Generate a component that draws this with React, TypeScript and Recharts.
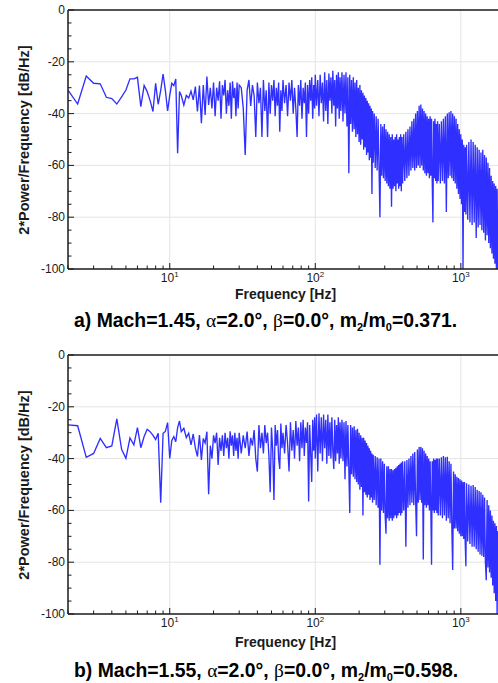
import React from 'react';
import { LineChart, Line, XAxis, YAxis, CartesianGrid, ReferenceLine } from 'recharts';

// frequency bins [Hz], shared by both runs
const freqHz = [
  2, 2.33, 2.67, 3, 3.33, 3.67, 4, 4.33, 4.67, 5,
  5.33, 5.67, 6, 6.33, 6.67, 7, 7.33, 7.67, 8, 8.33,
  8.67, 9, 9.33, 9.67, 10, 10.33, 10.67, 11, 11.33, 11.67,
  12, 12.5, 13, 13.5, 14, 14.5, 15, 15.5, 16, 16.5,
  17, 17.5, 18, 18.5, 19, 19.5, 20, 20.5, 21, 21.5,
  22, 22.5, 23, 23.5, 24, 24.5, 25, 25.5, 26, 26.5,
  27, 27.5, 28, 28.5, 29, 29.5, 30, 31, 32, 33,
  34, 35, 36, 37, 38, 39, 40, 41, 42, 43,
  44, 45, 46, 47, 48, 49, 50, 51, 52, 53,
  54, 55, 56, 57, 58, 59, 60, 61.5, 63, 64.5,
  66, 67.5, 69, 70.5, 72, 73.5, 75, 76.5, 78, 79.5,
  81, 82.5, 84, 85.5, 87, 88.5, 90, 91.5, 93, 94.5,
  96, 97.5, 99, 100, 102, 104, 106, 108, 110, 112,
  114, 116, 118, 120, 122, 124, 126, 128, 130, 132,
  134, 136, 138, 140, 142, 144, 146, 148, 150, 152.5,
  155, 157.5, 160, 162.5, 165, 167.5, 170, 172.5, 175, 177.5,
  180, 182.5, 185, 187.5, 190, 192.5, 195, 197.5, 200, 202.5,
  205, 207.5, 210, 212.5, 215, 217.5, 220, 222.5, 225, 227.5,
  230, 232.5, 235, 237.5, 240, 242.5, 245, 247.5, 250, 254,
  258, 262, 266, 270, 274, 278, 282, 286, 290, 294,
  298, 302, 306, 310, 314, 318, 322, 326, 330, 334,
  338, 342, 346, 350, 354, 358, 362, 366, 370, 374,
  378, 382, 386, 390, 394, 398, 405, 412, 419, 426,
  433, 440, 447, 454, 461, 468, 475, 482, 489, 496,
  503, 510, 517, 524, 531, 538, 545, 552, 559, 566,
  573, 580, 587, 594, 601, 608, 615, 622, 629, 636,
  643, 650, 657, 664, 671, 678, 685, 692, 699, 711,
  723, 735, 747, 759, 771, 783, 795, 807, 819, 831,
  843, 855, 867, 879, 891, 903, 915, 927, 939, 951,
  963, 975, 987, 999, 1011, 1023, 1035, 1047, 1059, 1071,
  1083, 1095, 1115, 1135, 1155, 1175, 1195, 1215, 1235, 1255,
  1275, 1295, 1315, 1335, 1355, 1375, 1395, 1415, 1435, 1455,
  1475, 1495, 1515, 1535, 1555, 1575, 1595, 1615, 1635, 1655,
  1675, 1695, 1715, 1735, 1755, 1775, 1795,
];

// a) Mach 1.45, m2/m0 = 0.371  [dB/Hz]
const psdCaseA = [
  -30.9, -36.3, -25.5, -28.3, -28.5, -33.7, -34.2, -36.3, -33.5, -30.9,
  -26.6, -26.6, -26, -37.3, -29.1, -31.5, -35, -39.2, -28.3, -36.4,
  -31, -24.7, -31, -39, -33, -28.3, -29.2, -26.6, -55.3, -31.5,
  -33, -36.7, -33, -34, -31.3, -34.7, -29.6, -39.2, -29.2, -43.7,
  -29, -40.5, -25.7, -36.7, -30, -38, -28, -41, -30, -35,
  -27.5, -42, -29, -33, -27, -40, -31, -37, -28, -42,
  -27.5, -34, -30, -41, -28, -38, -29, -30, -38, -56,
  -31, -27, -37, -29, -33, -49, -28, -36, -30, -49,
  -27, -39, -31, -49, -28, -40, -29, -35, -27, -41,
  -30, -37, -28, -47, -31, -39, -27, -36, -29, -41,
  -28, -35, -27, -40, -30, -38, -49, -29, -37, -27,
  -42, -30, -36, -28, -49, -29, -40, -27, -35, -26,
  -42, -29, -38, -25, -37, -27, -41, -25, -36, -28,
  -43, -24, -39, -27, -44, -24.5, -35, -26, -40, -23.5,
  -37, -27, -45, -25, -38, -24, -42, -26, -39, -24,
  -43, -25, -40, -24, -45, -26, -63, -25, -44, -27,
  -47, -26, -46, -28, -49, -27, -48, -30, -51, -29,
  -52, -31, -50, -32, -54, -33, -53, -34, -56, -35,
  -55, -36, -58, -37, -57, -38, -71, -39, -59, -40,
  -61, -41, -62, -42, -60, -80, -44, -64, -45, -65,
  -44, -66, -46, -67, -47, -68, -48, -69, -49, -76,
  -48, -69, -50, -68, -49, -70, -48, -67, -50, -69,
  -49, -68, -48, -70, -49, -67, -48, -66, -47, -65,
  -46, -64, -45, -62, -43, -61, -42, -62, -40, -61,
  -39, -60, -37, -61, -36.5, -60, -38, -62, -39, -63,
  -40, -64, -41, -63, -42, -65, -41, -64, -42, -66,
  -82, -43, -65, -42, -66, -44, -67, -43, -66, -44,
  -67, -43, -66, -42, -67, -41, -78, -40, -65, -39.5,
  -64, -39, -65, -40, -66, -41, -67, -42, -69, -44,
  -71, -46, -73, -48, -75, -50, -100, -52, -78, -53,
  -79, -52, -81, -51, -82, -50, -83, -51, -82, -52,
  -88, -53, -84, -54, -83, -55, -85, -54, -86, -56,
  -89, -57, -87, -59, -90, -61, -92, -64, -94, -66,
  -96, -67, -98, -68, -100, -69, -100,
];

// b) Mach 1.55, m2/m0 = 0.598  [dB/Hz]
const psdCaseB = [
  -27, -27.3, -39.5, -38, -32.2, -35.8, -35.1, -24.7, -36.4, -39.9,
  -32, -34.7, -28, -35.8, -31.5, -28.7, -29.6, -31, -32.6, -30.2,
  -57, -30.2, -29.5, -26.1, -39.9, -33, -31.5, -33.5, -28, -25.5,
  -29.6, -28.3, -31.9, -30.2, -34.7, -30.5, -36, -39.2, -30.9, -40.5,
  -32.2, -34, -29.6, -53.8, -35, -40, -31, -34, -30, -42.5,
  -32, -37, -31, -39, -30, -36, -32, -40, -29.5, -35,
  -31, -39, -30, -37, -32, -40, -30, -38, -31, -36,
  -29.6, -39, -32, -35, -29, -40, -45, -27, -36, -30,
  -38, -27, -34, -30, -39, -53, -28, -37, -56, -27,
  -35, -29, -40, -44, -26.5, -36, -30, -38, -27, -34,
  -45, -26, -37, -29, -40, -25.5, -35, -28, -41, -26,
  -36, -25, -39, -28, -34, -26, -56.6, -27, -38, -49,
  -25, -37, -24, -40, -23, -45, -22.5, -38, -24, -41,
  -23, -36, -25, -42, -23, -39, -26, -40, -24, -37,
  -44, -25, -41, -27, -38, -24, -42, -26, -40, -25,
  -41, -26, -48, -25.5, -43, -27, -44, -61, -27, -46,
  -28, -47, -27.5, -48, -29, -49, -28.5, -50, -30, -52,
  -31, -51, -32, -62, -32, -53, -33, -54, -34, -55,
  -35, -54, -36, -56, -37, -55, -38, -57, -38.5, -56,
  -39, -58, -39.5, -59, -40, -81, -40, -60, -41, -61,
  -42, -62, -69, -43, -63, -43, -64, -44, -63, -44,
  -64, -44.5, -63, -44, -62, -43.5, -63, -43, -62, -42.5,
  -61, -42, -62, -41.5, -61, -41, -60, -41, -74, -40.5,
  -59, -40, -58, -39, -57, -38, -58, -37.5, -56, -70,
  -36.5, -57, -35.5, -56, -35.4, -57, -36, -79, -37, -58,
  -38, -59, -39, -58, -40, -60, -41, -59, -81, -41,
  -60, -40, -61, -40.5, -60, -40, -61, -40, -62, -40,
  -62, -39.5, -63, -39, -62, -39.5, -64, -39.3, -63, -41,
  -65, -42, -66, -83, -45, -67, -46, -67, -47, -68,
  -47.5, -69, -48, -70, -48.5, -70, -49, -71, -49, -72,
  -81.6, -49.5, -72, -50, -73, -50.5, -74, -50.2, -74, -51,
  -75, -52, -76, -52.5, -77, -53, -77.5, -54, -78, -55,
  -80, -87, -56, -82, -58, -84, -60, -86, -62, -89,
  -64, -92, -65, -95, -66, -100, -68,
];

const xTicks = [2, 3, 4, 5, 6, 7, 8, 9, 10, 20, 30, 40, 50, 60, 70, 80, 90, 100, 200, 300, 400, 500, 600, 700, 800, 900, 1000];
const xMajor = [10, 100, 1000];
const xExponent: Record<number, string> = { 10: '1', 100: '2', 1000: '3' };
const yTicks = [0, -5, -10, -15, -20, -25, -30, -35, -40, -45, -50, -55, -60, -65, -70, -75, -80, -85, -90, -95, -100];
const yGrid = [-20, -40, -60, -80];

const FONT = '"Liberation Sans", Arial, Helvetica, sans-serif';
const INK = '#1a1a1a';

const XTick = (props: any) => {
  const { x, y, payload } = props;
  const major = xMajor.includes(payload.value);
  return (
    <g>
      <line x1={x} x2={x} y1={y} y2={y - (major ? 6 : 3.5)} stroke={INK} strokeWidth={1} />
      {major && (
        <text x={x} y={y + 13} textAnchor="middle" fontSize={12} fontFamily={FONT} fill={INK}>
          10<tspan fontSize={8} dy={-5}>{xExponent[payload.value]}</tspan>
        </text>
      )}
    </g>
  );
};

const YTick = (props: any) => {
  const { x, y, payload } = props;
  const major = payload.value % 20 === 0;
  return (
    <g>
      <line x1={x} x2={x + (major ? 6 : 3.5)} y1={y} y2={y} stroke={INK} strokeWidth={1} />
      {major && (
        <text x={x - 3} y={y + 4} textAnchor="end" fontSize={12} fontFamily={FONT} fill={INK}>
          {payload.value}
        </text>
      )}
    </g>
  );
};

const SpectrumChart = ({ levels }: { levels: number[] }) => {
  const data = freqHz.map((f, i) => ({ f, psd: levels[i] }));
  return (
    <LineChart width={498} height={340} data={data} margin={{ top: 10, right: 0, bottom: 70, left: 67 }}>
      <CartesianGrid horizontalValues={yGrid} verticalValues={xMajor} stroke="#e4e4e4" strokeWidth={1} />
      <XAxis
        dataKey="f"
        type="number"
        scale="log"
        domain={[2, 1800]}
        allowDataOverflow
        ticks={xTicks}
        interval={0}
        tick={XTick}
        tickLine={false}
        tickSize={0}
        tickMargin={0}
        height={1}
        axisLine={{ stroke: INK, strokeWidth: 1.5 }}
      />
      <YAxis
        type="number"
        domain={[-100, 0]}
        ticks={yTicks}
        interval={0}
        tick={YTick}
        tickLine={false}
        tickSize={0}
        tickMargin={0}
        width={1}
        axisLine={{ stroke: INK, strokeWidth: 1.5 }}
      />
      <ReferenceLine y={0} stroke={INK} strokeWidth={1.5} />
      <Line
        type="linear"
        dataKey="psd"
        stroke="#2f2fff"
        strokeWidth={1.35}
        dot={false}
        isAnimationActive={false}
      />
    </LineChart>
  );
};

const axisTitle: React.CSSProperties = {
  position: 'absolute',
  fontFamily: FONT,
  fontWeight: 'bold',
  fontSize: 14,
  lineHeight: '14px',
  whiteSpace: 'nowrap',
  color: INK,
};

const yTitle: React.CSSProperties = {
  position: 'absolute',
  left: -76,
  width: 200,
  height: 16,
  lineHeight: '16px',
  textAlign: 'center',
  transform: 'rotate(-90deg)',
  fontFamily: FONT,
  fontWeight: 'bold',
  fontSize: 14.5,
  whiteSpace: 'nowrap',
  color: INK,
};

const captionStyle: React.CSSProperties = {
  position: 'absolute',
  left: 74,
  fontFamily: FONT,
  fontWeight: 'bold',
  fontSize: 19.4,
  lineHeight: '19px',
  whiteSpace: 'nowrap',
  color: '#000',
};

const greek: React.CSSProperties = { fontFamily: '"Liberation Serif", "DejaVu Serif", serif', fontWeight: 'normal' };
const sub: React.CSSProperties = { fontSize: 11, verticalAlign: '-4px', lineHeight: 0 };

const Caption = ({ tag, mach, ratio, top }: { tag: string; mach: string; ratio: string; top: number }) => (
  <div style={{ ...captionStyle, top }}>
    {tag}) Mach={mach}, <span style={greek}>α</span>=2.0°, <span style={greek}>β</span>=0.0°, m
    <sub style={sub}>2</sub>/m<sub style={sub}>0</sub>={ratio}.
  </div>
);

export default function App() {
  return (
    <div style={{ position: 'relative', width: 498, height: 683, background: '#fff' }}>
      <style>{'html, body { margin: 0; padding: 0; overflow: hidden; }'}</style>
      <div style={{ position: 'absolute', left: 0, top: 0 }}>
        <SpectrumChart levels={psdCaseA} />
      </div>
      <div style={{ position: 'absolute', left: 0, top: 345 }}>
        <SpectrumChart levels={psdCaseB} />
      </div>

      <div style={{ ...yTitle, top: 132 }}>2*Power/Frequency [dB/Hz]</div>
      <div style={{ ...yTitle, top: 477 }}>2*Power/Frequency [dB/Hz]</div>

      <div style={{ ...axisTitle, left: 235, top: 287 }}>Frequency [Hz]</div>
      <div style={{ ...axisTitle, left: 235, top: 635 }}>Frequency [Hz]</div>

      <Caption tag="a" mach="1.45" ratio="0.371" top={311} />
      <Caption tag="b" mach="1.55" ratio="0.598" top={661} />
    </div>
  );
}
